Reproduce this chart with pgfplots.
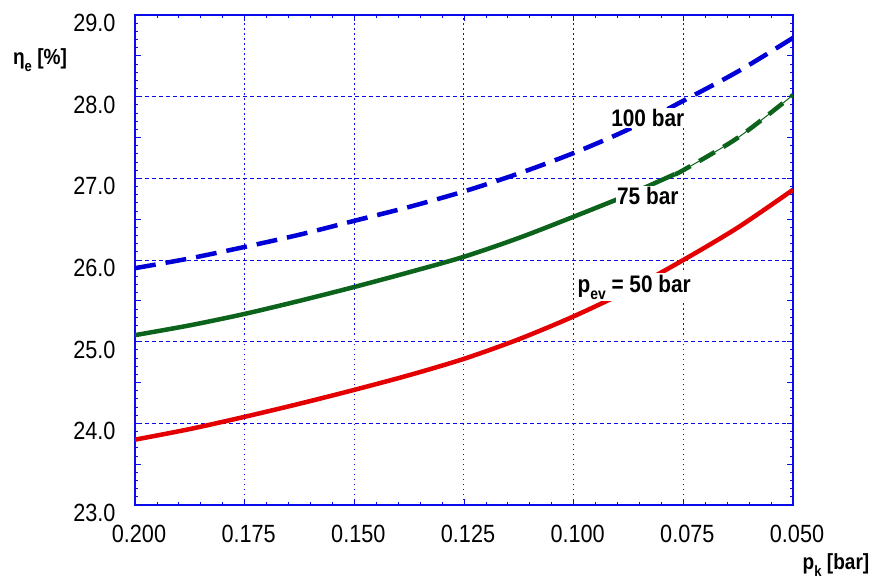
\documentclass[border=0pt]{standalone}
\usepackage{fontspec}
\setmainfont{Liberation Sans}
\newfontfamily\narrowfont[FakeStretch=0.87]{Liberation Sans}
\usepackage{pgfplots}
\pgfplotsset{compat=1.18}
\definecolor{gridblue}{RGB}{10,10,235}
\definecolor{cblue}{RGB}{0,0,215}
\definecolor{cgreen}{RGB}{12,100,28}
\definecolor{cred}{RGB}{228,0,0}

\pgfplotstableread{
x y
0.2000 25.90
0.1875 26.02
0.1750 26.16
0.1625 26.31
0.1500 26.48
0.1375 26.65
0.1250 26.84
0.1125 27.06
0.1000 27.31
0.0875 27.60
0.0750 27.95
0.0625 28.31
0.0500 28.72
}\bluedata

\pgfplotstableread{
x y
0.2000 25.08
0.1875 25.20
0.1750 25.34
0.1625 25.50
0.1500 25.67
0.1375 25.85
0.1250 26.04
0.1125 26.27
0.1000 26.53
0.0875 26.80
0.0770 27.05
}\greenA

\pgfplotstableread{
x y
0.0770 27.05
0.0750 27.10
0.0625 27.50
0.0500 28.02
}\greenB

\pgfplotstableread{
x y
0.2000 23.80
0.1875 23.93
0.1750 24.08
0.1625 24.24
0.1500 24.41
0.1375 24.59
0.1250 24.79
0.1125 25.03
0.1000 25.31
0.0875 25.63
0.0750 26.00
0.0625 26.40
0.0500 26.86
}\reddata

\begin{document}
\begin{tikzpicture}
\useasboundingbox (-135bp,-81bp) rectangle (741bp,505bp);
\begin{axis}[
  at={(0,0)}, anchor=south west,
  scale only axis, width=658bp, height=490bp,
  x dir=reverse,
  xmin=0.05, xmax=0.2, ymin=23, ymax=29,
  xtick={0.05,0.075,0.1,0.125,0.15,0.175,0.2},
  xticklabels={0.050,0.075,0.100,0.125,0.150,0.175,0.200},
  ytick={23,24,25,26,27,28,29},
  yticklabels={23.0,24.0,25.0,26.0,27.0,28.0,29.0},
  minor x tick num=4, minor y tick num=9,
  extra y ticks={23.5,24.5,25.5,26.5,27.5,28.5},
  extra y tick labels={},
  extra y tick style={grid=none, major tick length=6bp},
  grid=major,
  x grid style={gridblue, line width=1bp, dash pattern=on 1.5bp off 3.5bp},
  y grid style={gridblue, line width=1bp, dash pattern=on 4bp off 3bp},
  axis line style={gridblue, line width=1.1bp},
  every tick/.style={gridblue, line width=0.8bp},
  major tick length=6bp, minor tick length=3bp,
  tick align=inside,
  tick label style={font=\fontsize{25}{27}\selectfont\narrowfont, text=black},
  /pgf/number format/assume math mode=true,
  xticklabel style={anchor=north, yshift=-17bp, xshift=4bp},
  yticklabel style={anchor=east, yshift=-8bp, xshift=-16bp},
]
\addplot[cblue, line width=4.5bp, dash pattern=on 21bp off 10bp, smooth] table {\bluedata};
\addplot[cgreen, line width=1bp, smooth] table {\greenB};
\addplot[cgreen, line width=4.5bp, smooth] table {\greenA};
\addplot[cgreen, line width=4.5bp, dash pattern=on 18bp off 10bp, smooth] table {\greenB};
\addplot[cred, line width=4.5bp, smooth] table {\reddata};
\node[fill=white, inner sep=1.5bp, font=\narrowfont\bfseries\fontsize{24}{26}\selectfont] at (axis cs:0.0831,27.74) {100 bar};
\node[fill=white, inner sep=1.5bp, font=\narrowfont\bfseries\fontsize{24}{26}\selectfont] at (axis cs:0.0831,26.78) {75 bar};
\node[fill=white, inner sep=2bp, font=\narrowfont\bfseries\fontsize{24}{26}\selectfont] at (axis cs:0.0862,25.67) {p\raisebox{-7bp}{\fontsize{16}{16}\selectfont ev} = 50 bar};
\end{axis}
\node[font=\narrowfont\bfseries\fontsize{22}{24}\selectfont] at (-95bp,445bp) {η\raisebox{-7bp}{\fontsize{15}{15}\selectfont e} [\%]};
\node[font=\narrowfont\bfseries\fontsize{22}{24}\selectfont] at (701bp,-60bp) {p\raisebox{-7bp}{\fontsize{15}{15}\selectfont k} [bar]};
\end{tikzpicture}
\end{document}
